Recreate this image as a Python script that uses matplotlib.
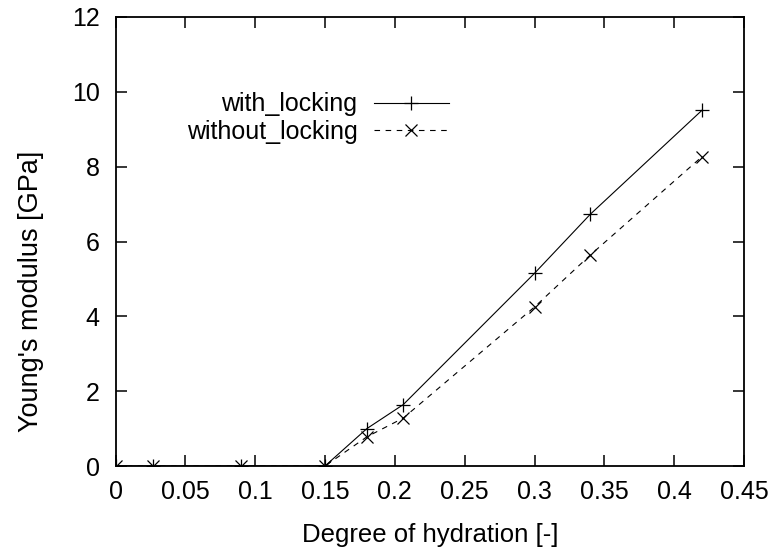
import matplotlib
matplotlib.use("Agg")
import matplotlib.pyplot as plt

# Degree of hydration and Young's modulus for the two model variants
hydration = [0.0, 0.027, 0.09, 0.15, 0.18, 0.206, 0.30, 0.34, 0.42]
with_locking = [0.0, 0.0, 0.0, 0.0, 1.0, 1.64, 5.15, 6.73, 9.51]
without_locking = [0.0, 0.0, 0.0, 0.0, 0.78, 1.28, 4.25, 5.64, 8.27]

x_ticks = [0, 0.05, 0.1, 0.15, 0.2, 0.25, 0.3, 0.35, 0.4, 0.45]
x_tick_labels = ["0", "0.05", "0.1", "0.15", "0.2", "0.25", "0.3", "0.35", "0.4", "0.45"]
y_ticks = [0, 2, 4, 6, 8, 10, 12]
y_tick_labels = ["0", "2", "4", "6", "8", "10", "12"]

plt.rcParams["font.family"] = ["Liberation Sans", "DejaVu Sans"]

fig = plt.figure(figsize=(7.79, 5.53), dpi=100)
ax = fig.add_axes([115.5 / 779, 1 - 466 / 553, (744 - 115.5) / 779, (466 - 17) / 553])

ax.plot(hydration, with_locking, color="black", lw=0.8, marker="+",
        markersize=10, markeredgewidth=0.9, label="with_locking")
ax.plot(hydration, without_locking, color="black", lw=0.8, linestyle=(0, (5, 5)),
        marker="x", markersize=8, markeredgewidth=0.9, label="without_locking")

ax.set_xlim(0, 0.45)
ax.set_ylim(0, 12)
ax.set_xticks(x_ticks)
ax.set_xticklabels(x_tick_labels)
ax.set_yticks(y_ticks)
ax.set_yticklabels(y_tick_labels)
ax.tick_params(direction="in", length=8, width=1.1, top=True, right=True,
               labelsize=18, colors="black")
ax.tick_params(axis="x", pad=10)
ax.tick_params(axis="y", pad=11.5)
for sp in ax.spines.values():
    sp.set_linewidth(1.3)
    sp.set_color("black")

ax.set_xlabel("Degree of hydration [-]", fontsize=18.5, labelpad=14)
ax.set_ylabel("Young's modulus [GPa]", fontsize=19.5)
ax.yaxis.set_label_coords(-0.114, 0.39)

ax.legend(loc="upper right", bbox_to_anchor=(0.53, 0.832), frameon=False,
          markerfirst=False, handlelength=3.0, handletextpad=0.65,
          labelspacing=0.15, fontsize=18, borderaxespad=0, borderpad=0)

fig.savefig("out.png", dpi=100)
